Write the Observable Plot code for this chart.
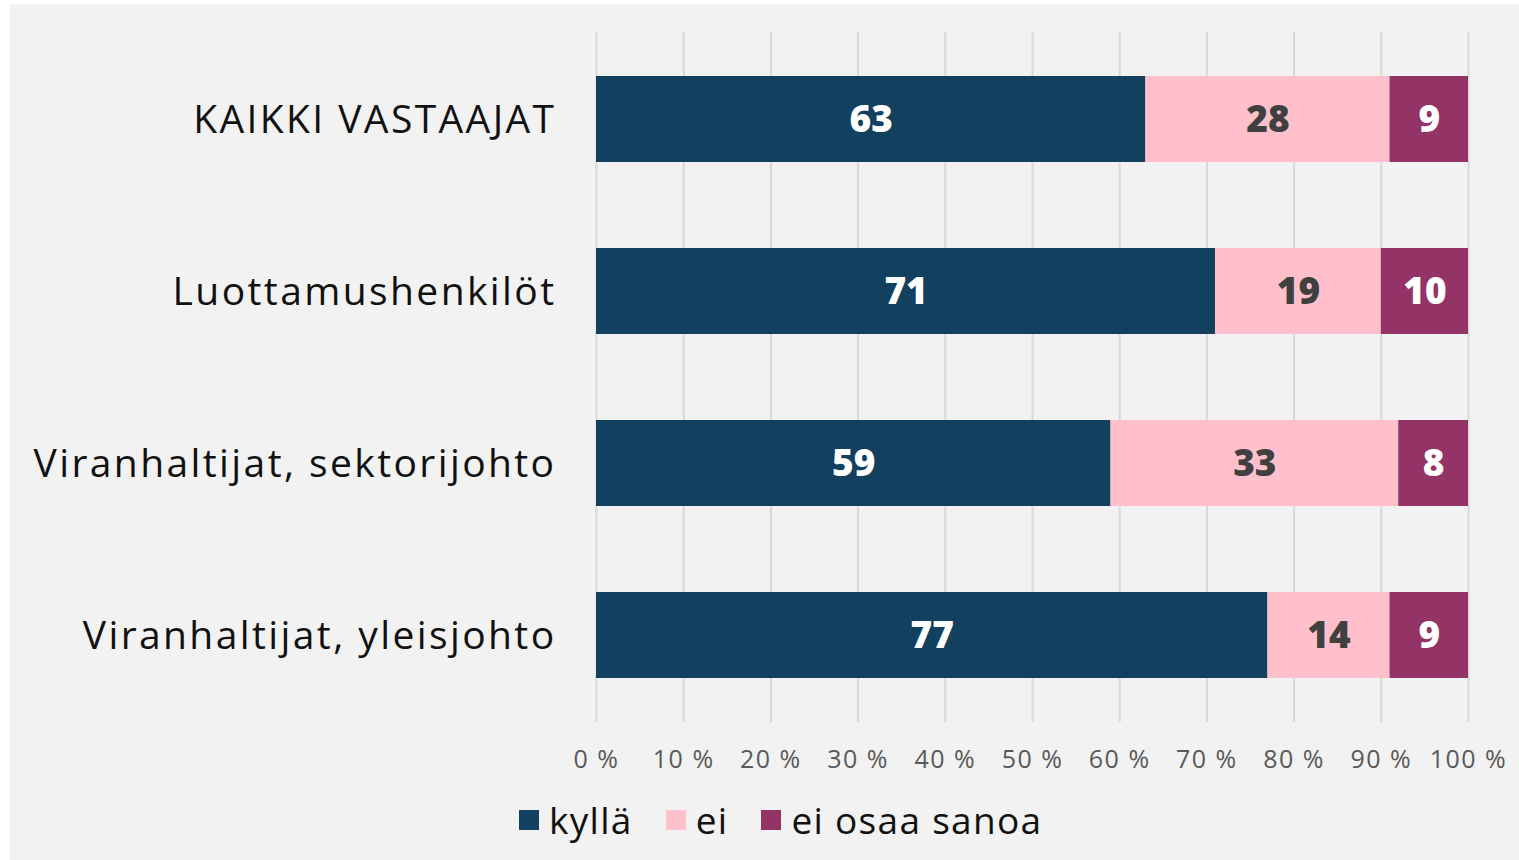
<!DOCTYPE html>
<html><head><meta charset="utf-8">
<script src="https://cdn.jsdelivr.net/npm/d3@7"></script>
<script src="https://cdn.jsdelivr.net/npm/@observablehq/plot@0.6"></script>
<style>
body{margin:0;background:#fff;}
#panel{position:absolute;left:10px;top:4px;width:1509px;height:856px;background:#f2f2f2;font-family:"Open Sans",sans-serif;overflow:hidden;}
#chart{position:absolute;left:0;top:0;}
#legend{position:absolute;top:790px;left:509px;display:flex;align-items:center;font-size:37px;color:#111;letter-spacing:1.3px;white-space:nowrap;}
#legend .item{display:flex;align-items:center;margin-right:33px;}
#legend .sw{width:20px;height:20px;margin-right:10px;}
</style></head>
<body><div id="panel"><div id="chart"></div><div id="legend"></div></div>
<script>
const groups = ["KAIKKI VASTAAJAT", "Luottamushenkilöt", "Viranhaltijat, sektorijohto", "Viranhaltijat, yleisjohto"];
const answers = ["kyllä", "ei", "ei osaa sanoa"];
const kylla = [63, 71, 59, 77];
const ei = [28, 19, 33, 14];
const eos = [9, 10, 8, 9];
const colors = ["#12405f", "#ffc0cc", "#933366"];
const labelColors = ["#ffffff", "#404040", "#ffffff"];
const xTicks = [0, 10, 20, 30, 40, 50, 60, 70, 80, 90, 100];

const series = [kylla, ei, eos];
const data = [];
groups.forEach((g, i) => answers.forEach((a, j) => data.push({group: g, answer: a, value: series[j][i], lc: labelColors[j]})));

const chart = Plot.plot({
  width: 1509,
  height: 780,
  marginLeft: 586,
  marginRight: 51,
  marginTop: 28,
  marginBottom: 62,
  style: {background: "transparent", fontFamily: "'Open Sans', sans-serif"},
  x: {domain: [0, 100], ticks: xTicks, tickFormat: d => d + " %", label: null},
  y: {domain: groups, paddingInner: 0.5, paddingOuter: 0.25, label: null},
  color: {domain: answers, range: colors},
  marks: [
    Plot.gridX(xTicks, {stroke: "#d9d9d9", strokeOpacity: 1, strokeWidth: 2}),
    Plot.barX(data, Plot.stackX({x: "value", y: "group", fill: "answer", z: "answer"})),
    Plot.textX(data, Plot.stackX({x: "value", y: "group", z: "answer", text: d => String(d.value), fill: "lc", fontSize: 37, fontWeight: "800", dy: 1})),
    Plot.axisX(xTicks, {tickSize: 0, tickPadding: 28, fontSize: 25, fill: "#595959", tickFormat: d => d + " %", label: null}),
    Plot.axisY({tickSize: 0, tickPadding: 40, fontSize: 39, fill: "#111", label: null, dy: 1})
  ]
});
document.getElementById("chart").appendChild(chart);
d3.select(chart).selectAll("g[aria-label='y-axis tick label'] text").style("letter-spacing", "2.4px");
d3.select(chart).selectAll("g[aria-label='x-axis tick label'] text").style("letter-spacing", "1.5px");

const legend = document.getElementById("legend");
answers.forEach((a, j) => {
  const it = document.createElement("div"); it.className = "item";
  const sw = document.createElement("div"); sw.className = "sw"; sw.style.background = colors[j];
  const t = document.createElement("span"); t.textContent = a;
  it.appendChild(sw); it.appendChild(t); legend.appendChild(it);
});
</script>
</body></html>
